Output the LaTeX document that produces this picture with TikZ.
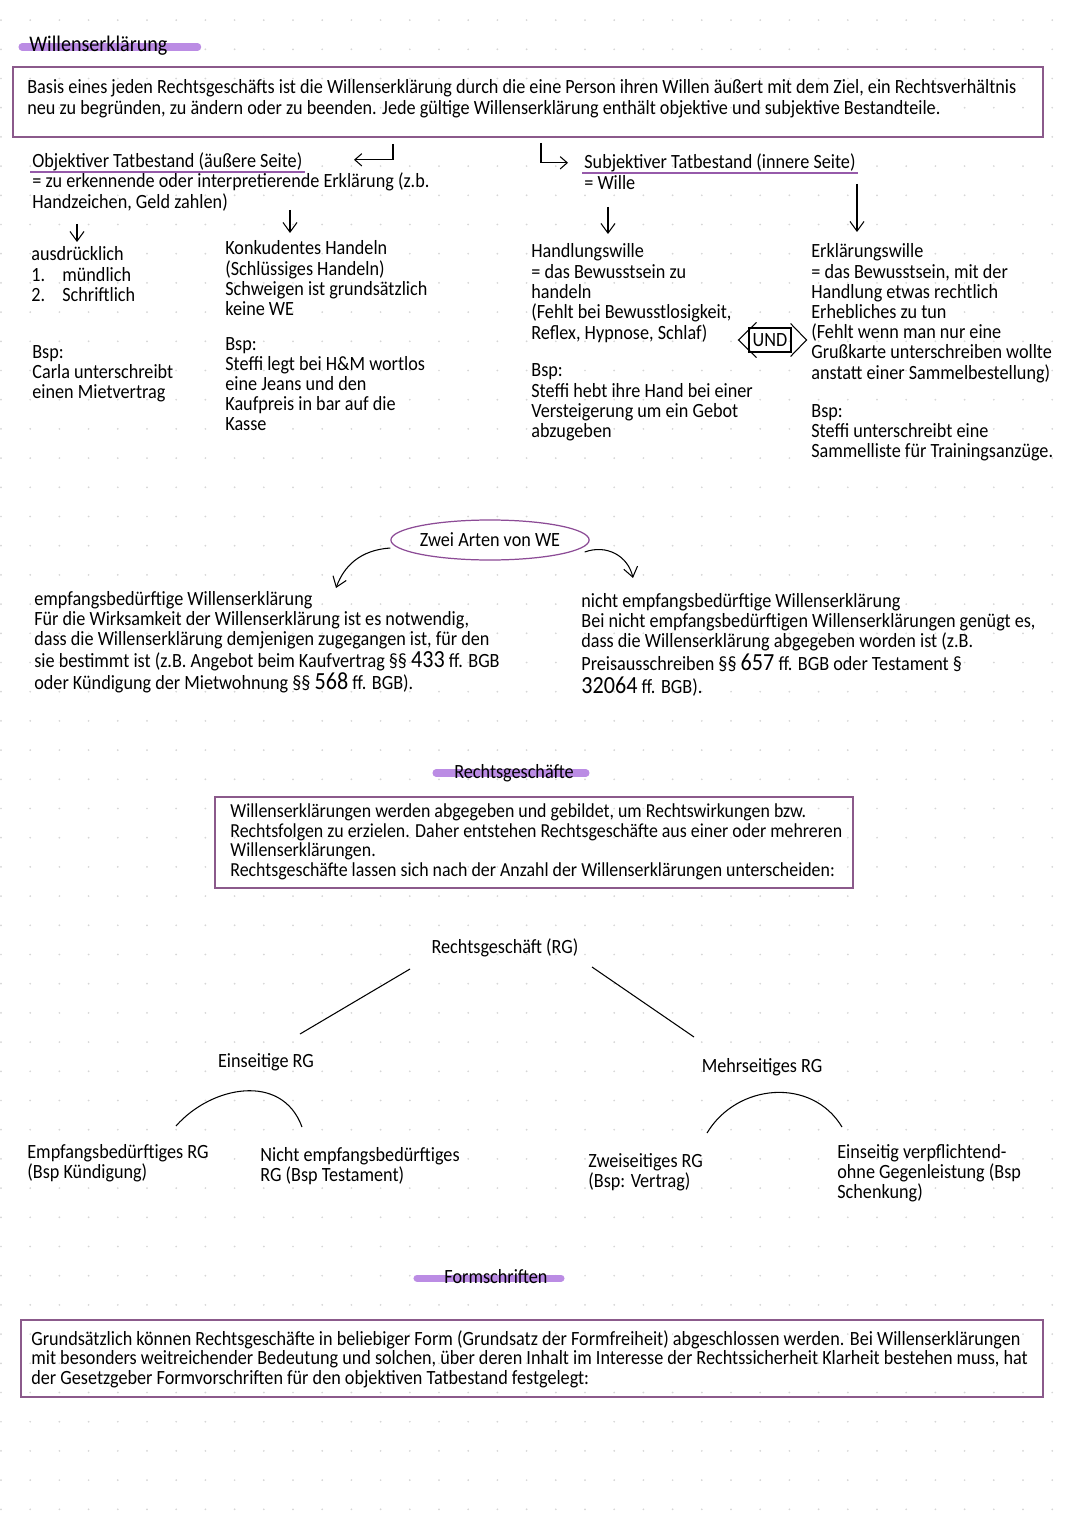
\documentclass[tikz,border=0pt]{standalone}
\usepackage{fontspec}
\setmainfont{Carlito}[FakeStretch=0.9]
\usetikzlibrary{arrows.meta,shapes.geometric,fit,backgrounds}

\definecolor{boxcol}{RGB}{139,90,139}
\definecolor{hlcol}{RGB}{187,140,228}
\definecolor{ulcol}{RGB}{150,90,170}
\definecolor{ellcol}{RGB}{140,75,150}
\definecolor{dotcol}{RGB}{214,214,214}

\newcommand{\hand}{\fontsize{11.5pt}{0.4cm}\selectfont}
\newcommand{\handsm}{\fontsize{11.5pt}{0.38cm}\selectfont}
\newcommand{\handfs}{\fontsize{11.5pt}{0.37cm}\selectfont}
\newcommand{\handbox}{\fontsize{11.3pt}{0.4cm}\selectfont}
\newcommand{\handtitle}{\fontsize{12.7pt}{0.4cm}\selectfont}
\newcommand{\bignum}[1]{{\fontsize{14pt}{0.4cm}\selectfont #1}}
\newcommand{\rows}[1]{\begin{tabular}[t]{@{}l@{}}#1\end{tabular}}

\begin{document}
\begin{tikzpicture}[x=0.02cm,y=-0.02cm,
    txt/.style={anchor=base west,font=\hand},
    ctxt/.style={anchor=base,font=\hand},
    textbox/.style={draw=boxcol,line width=0.9pt},
    arr/.style={-{Straight Barb[length=5.5pt,width=8pt]},line width=0.6pt},
    carr/.style={-{Straight Barb[length=4pt,width=7pt]},line width=0.6pt},
    hl/.style={draw=hlcol,line width=4pt,line cap=round},
    ul/.style={draw=ulcol,line width=0.8pt}]
    \tikzset{every node/.append style={inner sep=0pt}}
    \useasboundingbox (0,0) rectangle (1080,1527);
    \begin{pgfonlayer}{background}
    \fill [white] (0,0) rectangle (1080,1527);
    \foreach \i in {0,...,36}
        \foreach \j in {0,...,51}
            \fill [dotcol] (1+29.2*\i,20.1+29.2*\j) circle (0.55pt);
    \end{pgfonlayer}

    \node [txt,font=\handtitle] (title) at (29,52) {Willenserklärung};
    \node [textbox,fit={(13,67) (1043,137)}] (box1) {};
    \node [txt] (basis) at (27,94) {\rows{Basis eines jeden Rechtsgeschäfts ist die Willenserklärung durch die eine Person ihren Willen äußert mit dem Ziel, ein Rechtsverhältnis\\neu zu begründen, zu ändern oder zu beenden. Jede gültige Willenserklärung enthält objektive und subjektive Bestandteile.}};
    \draw [carr] ([shift={(-135,6)}]box1.south) |- ([shift={(-174,22)}]box1.south);
    \draw [carr] ([shift={(13,5)}]box1.south) |- ([shift={(40,25)}]box1.south);

    \node [txt] (obj) at (32,168) {Objektiver Tatbestand (äußere Seite)};
    \node [txt] (objdef) at (32,188) {\rows{= zu erkennende oder interpretierende Erklärung (z.b.\\Handzeichen, Geld zahlen)}};
    \node [txt] (subj) at (584,169) {Subjektiver Tatbestand (innere Seite)};
    \node [txt] (subjdef) at (584,190) {= Wille};

    \node [txt] (ausd) at (31,261) {\rows{ausdrücklich\\\makebox[0.62cm][l]{1.}mündlich\\\makebox[0.62cm][l]{2.}Schriftlich}};
    \node [txt] (bspA) at (32,358) {\rows{Bsp:\\Carla unterschreibt\\einen Mietvertrag}};
    \node [txt] (konk) at (225,255) {\rows{Konkudentes Handeln\\(Schlüssiges Handeln)\\Schweigen ist grundsätzlich\\keine WE}};
    \node [txt] (bspB) at (225,350) {\rows{Bsp:\\Steffi legt bei H\&M wortlos\\eine Jeans und den\\Kaufpreis in bar auf die\\Kasse}};
    \node [txt] (hand) at (531,258) {\rows{Handlungswille\\= das Bewusstsein zu\\handeln\\(Fehlt bei Bewusstlosigkeit,\\Reflex, Hypnose, Schlaf)}};
    \node [txt] (bspC) at (531,377) {\rows{Bsp:\\Steffi hebt ihre Hand bei einer\\Versteigerung um ein Gebot\\abzugeben}};
    \node [txt] (erkl) at (811,258) {\rows{Erklärungswille\\= das Bewusstsein, mit der\\Handlung etwas rechtlich\\Erhebliches zu tun\\(Fehlt wenn man nur eine\\Grußkarte unterschreiben wollte\\anstatt einer Sammelbestellung)}};
    \node [txt] (bspD) at (811,417) {\rows{Bsp:\\Steffi unterschreibt eine\\Sammelliste für Trainingsanzüge.}};

    \draw [arr] ([shift={(45,36)}]objdef.base west) -- ([shift={(46,-19)}]ausd.base west);
    \draw [arr] ([shift={(258,22)}]objdef.base west) -- ([shift={(65,-22)}]konk.base west);
    \draw [arr] ([shift={(24,17)}]subjdef.base west) -- ([shift={(77,-24)}]hand.base west);
    \draw [arr] ([shift={(273,-6)}]subjdef.base west) -- ([shift={(46,-26)}]erkl.base west);

    \node [draw,line width=0.6pt,minimum width=0.84cm,minimum height=0.48cm,font=\hand] (und) at (770,340) {UND};
    \draw [line width=0.6pt] ([shift={(8,-5)}]und.north west) -- ([shift={(-10,0)}]und.west) -- ([shift={(8,5)}]und.south west);
    \draw [line width=0.6pt] ([shift={(-1,-4)}]und.north east) -- ([shift={(15,0)}]und.east) -- ([shift={(-1,4)}]und.south east);

    \node [ellipse,draw=ellcol,line width=0.7pt,minimum width=3.72cm,minimum height=0.8cm,font=\hand] (zwei) at (490,540) {Zwei Arten von WE};
    \node [txt] (empf) at (34,605) {\rows{empfangsbedürftige Willenserklärung\\Für die Wirksamkeit der Willenserklärung ist es notwendig,\\dass die Willenserklärung demjenigen zugegangen ist, für den\\sie bestimmt ist (z.B. Angebot beim Kaufvertrag §§ \bignum{433} ff. BGB\\oder Kündigung der Mietwohnung §§ \bignum{568} ff. BGB).}};
    \node [txt] (nempf) at (581,607) {\rows{nicht empfangsbedürftige Willenserklärung\\Bei nicht empfangsbedürftigen Willenserklärungen genügt es,\\dass die Willenserklärung abgegeben worden ist (z.B.\\Preisausschreiben §§ \bignum{657} ff. BGB oder Testament §\\\bignum{32064} ff. BGB).}};
    \draw [arr] ([shift={(0,8)}]zwei.west) .. controls +(-30,2) and +(8,-22) .. ([shift={(302,-17)}]empf.base west);
    \draw [arr] ([shift={(-5,12)}]zwei.east) .. controls +(22,-8) and +(-5,-22) .. ([shift={(52,-29)}]nempf.base west);

    \node [ctxt] (rgh) at (514,778) {Rechtsgeschäfte};
    \node [textbox,fit={(215,797) (853,888)}] (box2) {};
    \node [txt,font=\handbox] (wg) at (230,817) {\rows{Willenserklärungen werden abgegeben und gebildet, um Rechtswirkungen bzw.\\Rechtsfolgen zu erzielen. Daher entstehen Rechtsgeschäfte aus einer oder mehreren\\Willenserklärungen.\\Rechtsgeschäfte lassen sich nach der Anzahl der Willenserklärungen unterscheiden:}};

    \node [ctxt] (rg) at (505,953) {Rechtsgeschäft (RG)};
    \node [ctxt] (ein) at (266,1067) {Einseitige RG};
    \node [ctxt] (mehr) at (762,1072) {Mehrseitiges RG};
    \draw [line width=0.6pt] ([shift={(-95,16)}]rg.base) -- ([shift={(34,-33)}]ein.base);
    \draw [line width=0.6pt] ([shift={(87,14)}]rg.base) -- ([shift={(-68,-35)}]mehr.base);

    \node [txt,font=\handsm] (erg) at (27,1158) {\rows{Empfangsbedürftiges RG\\(Bsp Kündigung)}};
    \node [txt,font=\handsm] (nerg) at (260,1161) {\rows{Nicht empfangsbedürftiges\\RG (Bsp Testament)}};
    \node [txt,font=\handsm] (zrg) at (588,1167) {\rows{Zweiseitiges RG\\(Bsp: Vertrag)}};
    \node [txt,font=\handsm] (vrg) at (837,1158) {\rows{Einseitig verpflichtend-\\ohne Gegenleistung (Bsp\\Schenkung)}};
    \draw [line width=0.6pt] ([shift={(149,-32)}]erg.base west) .. controls +(35,-40) and +(-20,-55) .. ([shift={(42,-34)}]nerg.base west);
    \draw [line width=0.6pt] ([shift={(119,-34)}]zrg.base west) .. controls +(30,-50) and +(-30,-50) .. ([shift={(5,-31)}]vrg.base west);

    \node [ctxt] (fs) at (496,1283) {Formschriften};
    \node [textbox,fit={(21,1320) (1043,1397)}] (box3) {};
    \node [txt,font=\handfs] (grund) at (31,1345) {\rows{Grundsätzlich können Rechtsgeschäfte in beliebiger Form (Grundsatz der Formfreiheit) abgeschlossen werden. Bei Willenserklärungen\\mit besonders weitreichender Bedeutung und solchen, über deren Inhalt im Interesse der Rechtssicherheit Klarheit bestehen muss, hat\\der Gesetzgeber Formvorschriften für den objektiven Tatbestand festgelegt:}};

    \begin{pgfonlayer}{background}
    \draw [hl] ([shift={(-7,-5)}]title.base west) -- ([shift={(30,-5)}]title.base east);
    \draw [hl] ([shift={(-78,-5)}]rgh.base) -- ([shift={(72,-5)}]rgh.base);
    \draw [hl] ([shift={(-79,-5)}]fs.base) -- ([shift={(65,-5)}]fs.base);
    \end{pgfonlayer}
    \draw [ul] ([shift={(-2,4)}]obj.base west) -- ([shift={(2,4)}]obj.base east);
    \draw [ul] ([shift={(-2,4)}]subj.base west) -- ([shift={(2,4)}]subj.base east);
\end{tikzpicture}
\end{document}
